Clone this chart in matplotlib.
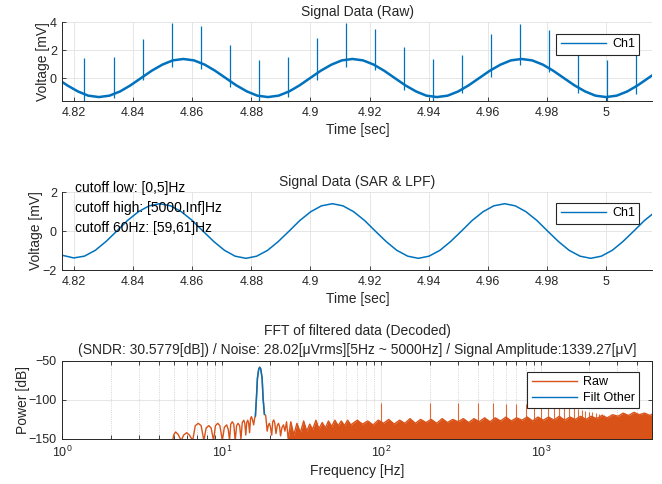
import matplotlib
matplotlib.use("Agg")
import matplotlib.pyplot as plt
from matplotlib.ticker import FuncFormatter, MultipleLocator, LogLocator, NullFormatter

plt.rcParams['font.family'] = ['Liberation Sans', 'DejaVu Sans']

BLUE = '#0072BD'
ORANGE = '#D95319'
DARK = '#262626'

# --- raw signal (panel 1) ---
raw_time = [4.8141, 4.8177, 4.8213, 4.8248, 4.8284, 4.8320, 4.8356, 4.8391,
            4.8427, 4.8463, 4.8499, 4.8534, 4.8570, 4.8606, 4.8642, 4.8677,
            4.8713, 4.8749, 4.8785, 4.8820, 4.8856, 4.8892, 4.8928, 4.8963,
            4.8999, 4.9035, 4.9071, 4.9106, 4.9142, 4.9178, 4.9214, 4.9249,
            4.9285, 4.9321, 4.9357, 4.9392, 4.9428, 4.9464, 4.9500, 4.9535,
            4.9571, 4.9607, 4.9643, 4.9678, 4.9714, 4.9750, 4.9786, 4.9821,
            4.9857, 4.9893, 4.9929, 4.9964, 5.0000, 5.0036, 5.0072, 5.0107,
            5.0143, 5.0179]
raw_mv = [0.03, -0.49, -0.92, -1.22, -1.32, -1.22, -0.92, -0.49,
          0.03, 0.55, 0.98, 1.28, 1.38, 1.28, 0.98, 0.55,
          0.03, -0.49, -0.92, -1.22, -1.32, -1.22, -0.92, -0.49,
          0.03, 0.55, 0.98, 1.28, 1.38, 1.28, 0.98, 0.55,
          0.03, -0.49, -0.92, -1.22, -1.32, -1.22, -0.92, -0.49,
          0.03, 0.55, 0.98, 1.28, 1.38, 1.28, 0.98, 0.55,
          0.03, -0.49, -0.92, -1.22, -1.32, -1.22, -0.92, -0.49,
          0.03, 0.55]

spike_time = [4.8235, 4.8335, 4.8432, 4.8531, 4.8629, 4.8728, 4.8825, 4.8923,
              4.9021, 4.9120, 4.9219, 4.9316, 4.9414, 4.9513, 4.9611, 4.9709,
              4.9808, 4.9904, 5.0004, 5.0102]
spike_top = [1.48, 1.53, 2.83, 3.93, 3.70, 2.35, 1.29, 1.53, 2.87, 3.93,
             3.53, 2.24, 1.41, 1.65, 3.18, 3.84, 3.41, 1.65, 1.29, 1.65]
spike_bottom = [-1.7, -1.4, -0.1, 0.82, 0.70, -0.64, -1.7, -1.3, -0.1, 0.80,
                0.60, -0.83, -1.7, -1.06, 0.11, 0.94, 0.47, -1.0, -1.7, -1.1]

# --- filtered signal (panel 2) ---
filt_time = [4.8126, 4.8162, 4.8199, 4.8235, 4.8272, 4.8308, 4.8345, 4.8381,
             4.8418, 4.8454, 4.8490, 4.8527, 4.8563, 4.8600, 4.8636, 4.8673,
             4.8709, 4.8745, 4.8782, 4.8818, 4.8855, 4.8891, 4.8928, 4.8964,
             4.9001, 4.9037, 4.9074, 4.9110, 4.9146, 4.9183, 4.9219, 4.9256,
             4.9292, 4.9329, 4.9365, 4.9401, 4.9438, 4.9474, 4.9511, 4.9547,
             4.9584, 4.9620, 4.9657, 4.9693, 4.9729, 4.9766, 4.9802, 4.9839,
             4.9875, 4.9912, 4.9948, 4.9984, 5.0021, 5.0057, 5.0094, 5.0130,
             5.0167]
filt_mv = [-0.99, -1.25, -1.38, -1.29, -0.99, -0.54, 0.00, 0.54,
           0.99, 1.29, 1.40, 1.29, 0.99, 0.54, 0.00, -0.54,
           -0.99, -1.29, -1.40, -1.29, -0.99, -0.54, 0.00, 0.54,
           0.99, 1.29, 1.40, 1.29, 0.99, 0.54, 0.00, -0.54,
           -0.99, -1.29, -1.40, -1.29, -0.99, -0.54, 0.00, 0.54,
           0.99, 1.29, 1.40, 1.29, 0.99, 0.54, 0.00, -0.54,
           -0.99, -1.29, -1.40, -1.29, -0.99, -0.54, 0.00, 0.54,
           0.99]

cutoff_notes = ['cutoff low: [0,5]Hz', 'cutoff high: [5000,Inf]Hz',
                'cutoff 60Hz: [59,61]Hz']

# --- spectrum (panel 3) ---
lobe_freq = [4.9, 5.0, 5.12, 5.3, 5.55, 5.75, 6.0, 6.25, 6.55, 6.8, 7.1, 7.4,
             7.7, 7.95, 8.27, 8.55, 8.85, 9.1, 9.4, 9.7, 10.05, 10.35, 10.7,
             10.95, 11.15, 11.35, 11.6, 11.85, 12.1, 12.35, 12.6, 12.9, 13.15,
             13.4, 13.7, 13.9, 14.1, 14.3, 14.5, 14.7, 14.9, 15.1, 15.3, 15.55,
             15.8, 16.0]
lobe_db = [-152, -144, -141, -144, -152, -145, -142, -145, -152, -133, -130,
           -133, -152, -136, -133, -136, -152, -133, -130, -133, -152, -135,
           -132, -138, -152, -131, -128, -131, -152, -133, -130, -133, -150,
           -129, -126, -130, -145, -129, -126, -130, -142, -124, -121.5, -126,
           -132, -124]

peak_freq = [16.2, 16.44, 16.68, 17.0, 17.24, 17.5, 17.85, 18.1, 18.45]
peak_db = [-120.6, -98, -72.5, -60.6, -58.4, -60.6, -72.5, -98, -118.5]

tail_freq = [18.8, 19.2, 19.5, 19.8, 20.1, 20.5, 20.8, 21.1, 21.4, 21.8, 22.2,
             22.6, 22.95, 23.3, 23.8, 24.3, 24.8, 25.4]
tail_db = [-120, -140, -133, -130, -134, -145, -128, -125.7, -129, -143, -133,
           -130, -134, -146, -135, -132, -140, -128]

noise_freq = [26, 27, 28.2, 29.5, 31, 32.5, 34, 35.5, 37, 38.8, 40.5, 42.5,
              44.5, 46.5, 48.7, 51, 53.5, 56, 58.6, 61.3, 64.2, 70.5, 76, 82,
              88.5, 95.5, 103, 111, 120, 130, 140, 151, 163, 176, 190, 205, 222,
              240, 259, 280, 302, 326, 352, 380, 410, 443, 479, 517, 558, 603,
              651, 703, 760, 820, 886, 957, 1034, 1116, 1206, 1302, 1406, 1519,
              1640, 1771, 1913, 2066, 2231, 2410, 2603, 2811, 3036, 3279, 3541,
              3824, 4130, 4461, 4818, 5000]
noise_db = [-150, -128, -145, -130, -142, -127, -140, -131, -138, -126, -137,
            -129, -136, -127, -134, -126, -133, -127, -133, -126, -132, -126,
            -131, -127, -132, -126, -130, -125, -131, -126, -130, -124, -130,
            -125, -129, -125, -130, -124, -129, -125, -128, -124, -129, -124,
            -128, -123, -128, -123, -127, -122, -127, -123, -126, -122, -127,
            -122, -126, -122, -126, -121, -126, -122, -125, -121, -125, -121,
            -124, -120, -123, -119, -121, -117, -120, -116, -119, -117, -120,
            -118]

harm_freq = [100, 200, 300, 400, 500, 600, 700, 800, 900, 1000, 1100, 1200,
             1300, 1400, 1500, 1600, 1700, 1800, 1900, 2000, 2100, 2200, 2300,
             2400, 2500]
harm_db = [-103.5, -104, -104.5, -104, -104.5, -105, -105.5, -105.5, -106,
           -106.5, -107, -107.5, -108, -109, -110, -111, -112, -113, -114, -115,
           -116, -117, -118, -118, -119]

title3 = ('FFT of filtered data (Decoded)\n'
          '(SNDR: 30.5779[dB]) / Noise: 28.02[\u03bcVrms][5Hz ~ 5000Hz] / '
          'Signal Amplitude:1339.27[\u03bcV]')


def style(ax, box=False):
    ax.tick_params(which='both', direction='in', length=3, width=0.6,
                   colors=DARK, labelsize=9, pad=4, top=box, right=box)
    for name, s in ax.spines.items():
        s.set_color(DARK)
        s.set_linewidth(0.7)
        if not box and name in ('top', 'right'):
            s.set_visible(False)
    ax.grid(True, which='major', color='#e2e2e2', lw=0.6)
    ax.set_axisbelow(True)


def legend(ax, yfrac):
    leg = ax.legend(loc='upper right', bbox_to_anchor=(0.978, yfrac),
                    borderaxespad=0, fontsize=9, fancybox=False,
                    framealpha=1, edgecolor=DARK, handlelength=3.6,
                    handletextpad=0.5, borderpad=0.35, labelspacing=0.3)
    leg.get_frame().set_linewidth(0.8)
    for line in leg.get_lines():
        line.set_linewidth(1.0)


fig = plt.figure(figsize=(6.62, 4.84), dpi=100)
tfmt = FuncFormatter(lambda v, p: f'{v:g}')

ax1 = fig.add_axes([0.0944, 0.7913, 0.8912, 0.1632])
ax1.plot(raw_time, raw_mv, color=BLUE, lw=1.8, label='Ch1')
ax1.vlines(spike_time, spike_bottom, spike_top, color=BLUE, lw=0.9)
ax1.set_xlim(4.8161, 5.0157)
ax1.set_ylim(-1.6, 4)
ax1.set_yticks([0, 2, 4])
ax1.xaxis.set_major_locator(MultipleLocator(0.02))
ax1.xaxis.set_major_formatter(tfmt)
style(ax1)
ax1.set_title('Signal Data (Raw)', fontsize=10, pad=4, color=DARK)
ax1.set_xlabel('Time [sec]', fontsize=10, color=DARK, labelpad=3)
ax1.set_ylabel('Voltage [mV]', fontsize=10, color=DARK, labelpad=0)
legend(ax1, 0.848)

ax2 = fig.add_axes([0.0944, 0.4421, 0.8912, 0.1612])
ax2.plot(filt_time, filt_mv, color=BLUE, lw=1.1, label='Ch1')
ax2.set_xlim(4.8161, 5.0157)
ax2.set_ylim(-2, 2)
ax2.set_yticks([-2, 0, 2])
ax2.xaxis.set_major_locator(MultipleLocator(0.02))
ax2.xaxis.set_major_formatter(tfmt)
style(ax2)
ax2.set_title('Signal Data (SAR & LPF)', fontsize=10, pad=4, color=DARK)
ax2.set_xlabel('Time [sec]', fontsize=10, color=DARK, labelpad=3)
ax2.set_ylabel('Voltage [mV]', fontsize=10, color=DARK, labelpad=0)
for k, note in enumerate(cutoff_notes):
    ax2.text(0.021, 1.047 - 0.256 * k, note, transform=ax2.transAxes,
             fontsize=10, va='center', ha='left', color='black')
legend(ax2, 0.859)

ax3 = fig.add_axes([0.0944, 0.0930, 0.8912, 0.1618])
raw_f = lobe_freq + peak_freq + tail_freq + noise_freq
raw_db = lobe_db + peak_db + tail_db + noise_db
ax3.fill_between(noise_freq, -160, noise_db, color=ORANGE, lw=0)
ax3.vlines(harm_freq, -150, harm_db, color=ORANGE, lw=0.8, alpha=0.85)
ax3.plot(raw_f, raw_db, color=ORANGE, lw=1.0, label='Raw')
ax3.plot(peak_freq, peak_db, color=BLUE, lw=1.1, label='Filt Other')
ax3.set_xscale('log')
ax3.set_xlim(1, 5000)
ax3.set_ylim(-150, -50)
ax3.set_yticks([-150, -100, -50])
ax3.xaxis.set_minor_locator(LogLocator(base=10, subs=range(2, 10)))
ax3.xaxis.set_minor_formatter(NullFormatter())
style(ax3, box=True)
ax3.grid(True, which='minor', axis='x', color='#c8c8c8', lw=0.6, ls=':')
ax3.set_title(title3, fontsize=10, pad=5, color=DARK, linespacing=1.45)
ax3.set_xlabel('Frequency [Hz]', fontsize=10, color=DARK, labelpad=3)
ax3.set_ylabel('Power [dB]', fontsize=10, color=DARK, labelpad=-1)
legend(ax3, 0.856)

fig.savefig('out.png', dpi=100)
